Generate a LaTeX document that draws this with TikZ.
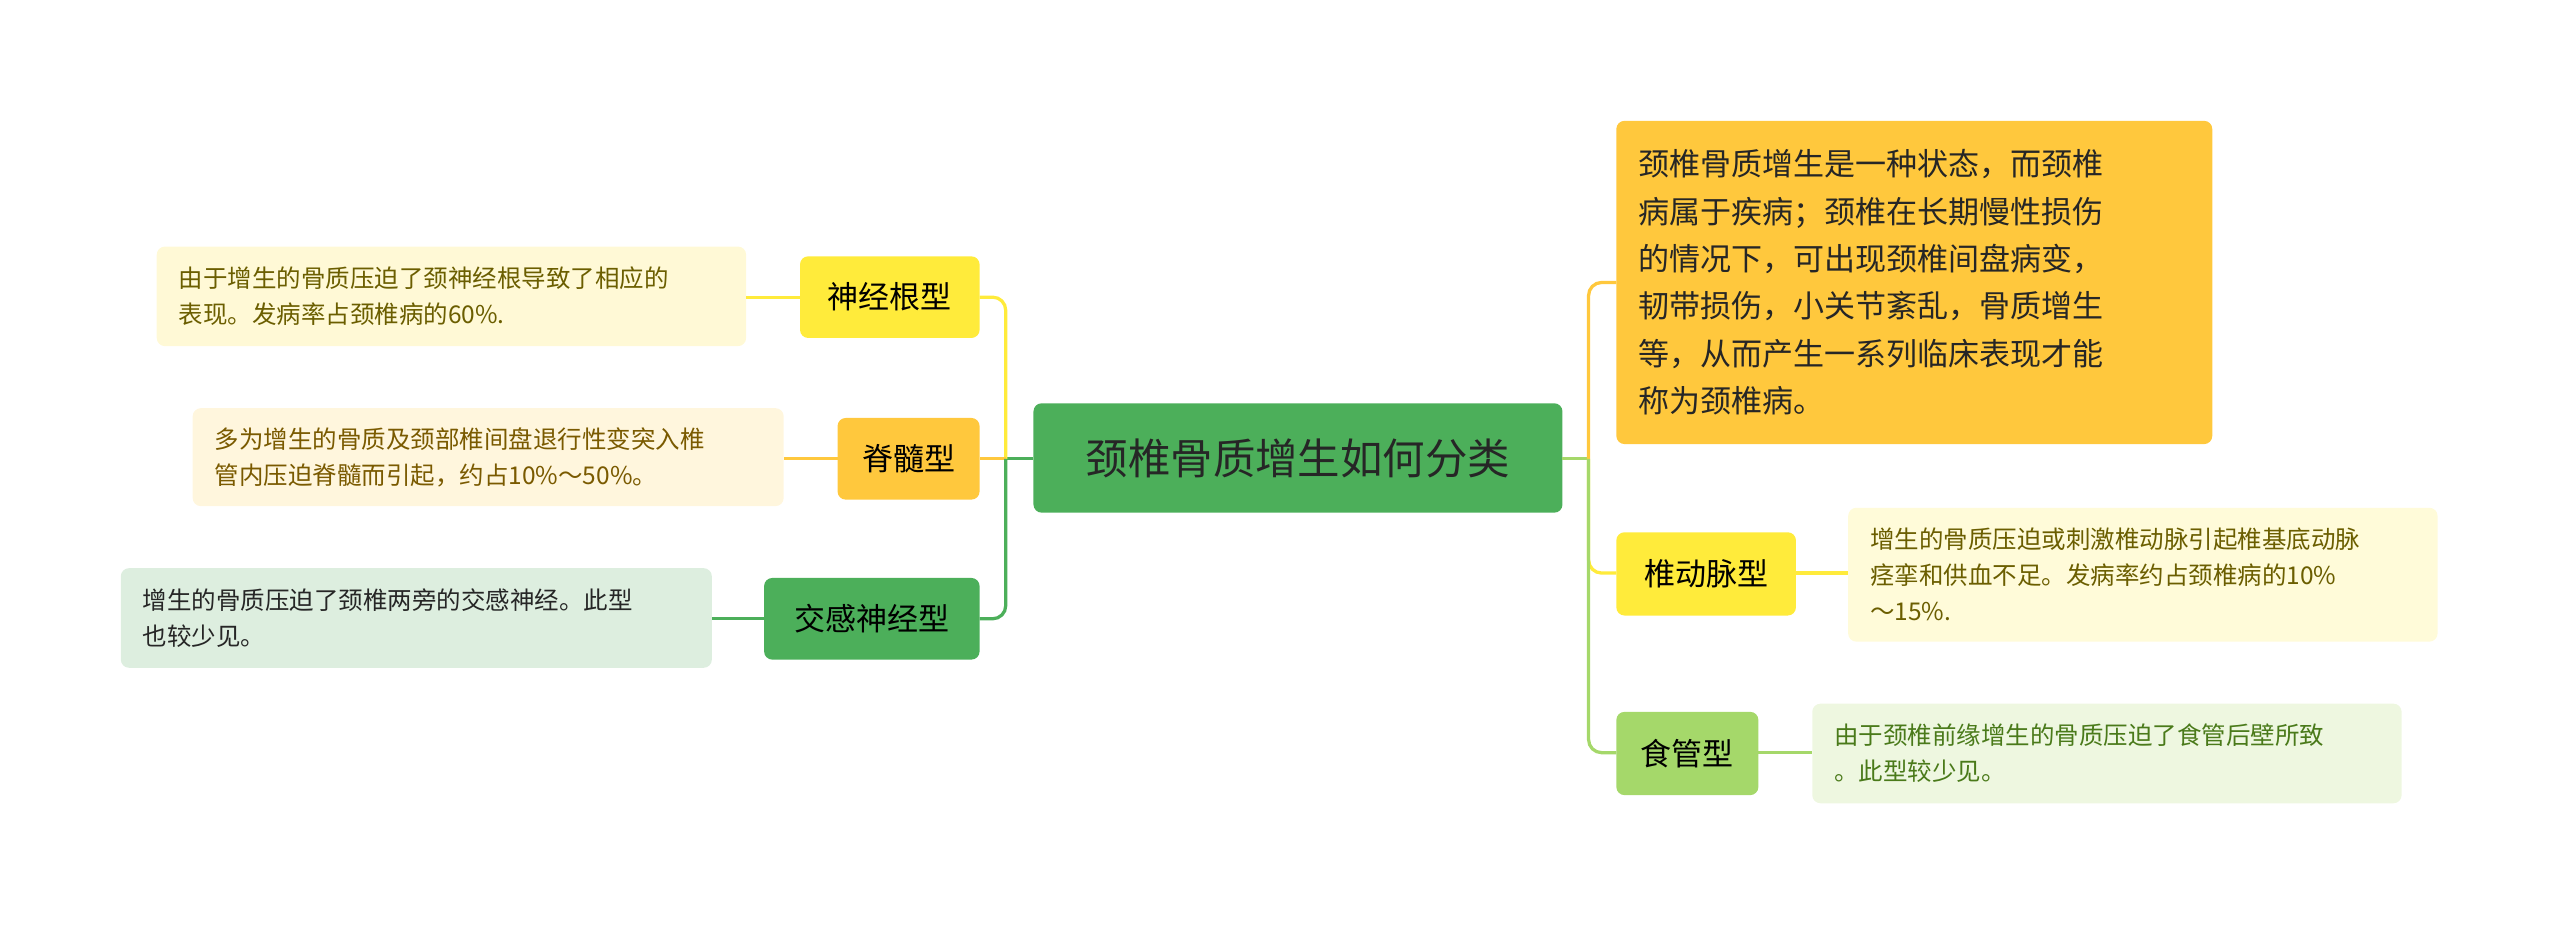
\documentclass[tikz,border=0pt]{standalone}
\usepackage{fontspec}
\setmainfont{Noto Sans CJK SC}
\begin{document}
\begin{tikzpicture}[x=1pt,y=-1pt,
  box/.style={rounded corners=5pt,inner sep=0pt},
  lnk/.style={line width=2pt,rounded corners=8pt},
  desc/.style={font=\fontsize{15}{22}\selectfont,align=left,anchor=west}]
\definecolor{cgreen}{HTML}{4CAF5A}
\definecolor{cyel}{HTML}{FFEB3B}
\definecolor{corange}{HTML}{FFC83D}
\definecolor{clgreen}{HTML}{A5D86A}
\useasboundingbox (0,0) rectangle (1568,566);
% boxes
\fill[cgreen,box] (633,247) rectangle (957,314);
\node (c) at (795,280.5) [font=\fontsize{26}{30}\selectfont,text=black!85] {颈椎骨质增生如何分类};
\coordinate (cl) at (633,281); \coordinate (cr) at (957,281);
% left
\fill[cyel,box] (490,157) rectangle (600,207);
\node (a1) at (545,182) [font=\fontsize{19}{22}\selectfont] {神经根型};
\fill[corange,box] (513,256) rectangle (600,306);
\node (a2) at (556.5,281) [font=\fontsize{19}{22}\selectfont] {脊髓型};
\fill[cgreen,box] (468,354) rectangle (600,404);
\node (a3) at (534,379) [font=\fontsize{19}{22}\selectfont] {交感神经型};
\coordinate (a1r) at (600,182); \coordinate (a1l) at (490,182);
\coordinate (a2r) at (600,281); \coordinate (a2l) at (513,281);
\coordinate (a3r) at (600,379); \coordinate (a3l) at (468,379);
\fill[box,fill={rgb,255:red,255;green,249;blue,214}] (96,151) rectangle (457,212);
\node (d1) at (106,181.5) [desc,text={rgb,255:red,107;green,94;blue,0}] {由于增生的骨质压迫了颈神经根导致了相应的\\表现。发病率占颈椎病的60\%.};
\fill[box,fill={rgb,255:red,255;green,246;blue,221}] (118,250) rectangle (480,310);
\node (d2) at (128,280) [desc,text={rgb,255:red,122;green,90;blue,0}] {多为增生的骨质及颈部椎间盘退行性变突入椎\\管内压迫脊髓而引起，约占10\%～50\%。};
\fill[box,fill={rgb,255:red,221;green,238;blue,223}] (74,348) rectangle (436,409);
\node (d3) at (84,378.5) [desc,text=black!85] {增生的骨质压迫了颈椎两旁的交感神经。此型\\也较少见。};
\coordinate (d1r) at (457,182); \coordinate (d2r) at (480,281); \coordinate (d3r) at (436,379);
% right
\fill[corange,box] (990,74) rectangle (1355,272);
\node (b0) at (1000,173) [anchor=west,align=left,font=\fontsize{19}{29}\selectfont,text=black!85] {颈椎骨质增生是一种状态，而颈椎\\病属于疾病；颈椎在长期慢性损伤\\的情况下，可出现颈椎间盘病变，\\韧带损伤，小关节紊乱，骨质增生\\等，从而产生一系列临床表现才能\\称为颈椎病。};
\fill[cyel,box] (990,326) rectangle (1100,377);
\node (b1) at (1045,351.5) [font=\fontsize{19}{22}\selectfont] {椎动脉型};
\fill[clgreen,box] (990,436) rectangle (1077,487);
\node (b2) at (1033.5,461.5) [font=\fontsize{19}{22}\selectfont] {食管型};
\coordinate (b0l) at (990,173); \coordinate (b1l) at (990,351); \coordinate (b2l) at (990,461);
\coordinate (b1r) at (1100,351); \coordinate (b2r) at (1077,461);
\fill[box,fill={rgb,255:red,255;green,251;blue,217}] (1132,311) rectangle (1493,393);
\node (e1) at (1142,352) [desc,text={rgb,255:red,107;green,94;blue,0}] {增生的骨质压迫或刺激椎动脉引起椎基底动脉\\痉挛和供血不足。发病率约占颈椎病的10\%\\～15\%.};
\fill[box,fill={rgb,255:red,238;green,247;blue,224}] (1110,431) rectangle (1471,492);
\node (e2) at (1120,461.5) [desc,text={rgb,255:red,74;green,122;blue,26}] {由于颈椎前缘增生的骨质压迫了食管后壁所致\\。此型较少见。};
\coordinate (e1l) at (1132,351); \coordinate (e2l) at (1110,461);
% connectors
\draw[lnk,cgreen] (cl) -- (616,281);
\draw[lnk,cyel] (616,281) |- (a1r);
\draw[lnk,corange] (616,281) -- (a2r);
\draw[lnk,cgreen] (616,281) |- (a3r);
\draw[lnk,clgreen] (cr) -- (973,281);
\draw[lnk,corange] (973,281) |- (b0l);
\draw[lnk,cyel] (973,281) |- (b1l);
\draw[lnk,clgreen] (973,281) |- (b2l);
\draw[lnk,cyel] (a1l) -- (d1r);
\draw[lnk,corange] (a2l) -- (d2r);
\draw[lnk,cgreen] (a3l) -- (d3r);
\draw[lnk,cyel] (b1r) -- (e1l);
\draw[lnk,clgreen] (b2r) -- (e2l);
\end{tikzpicture}
\end{document}
